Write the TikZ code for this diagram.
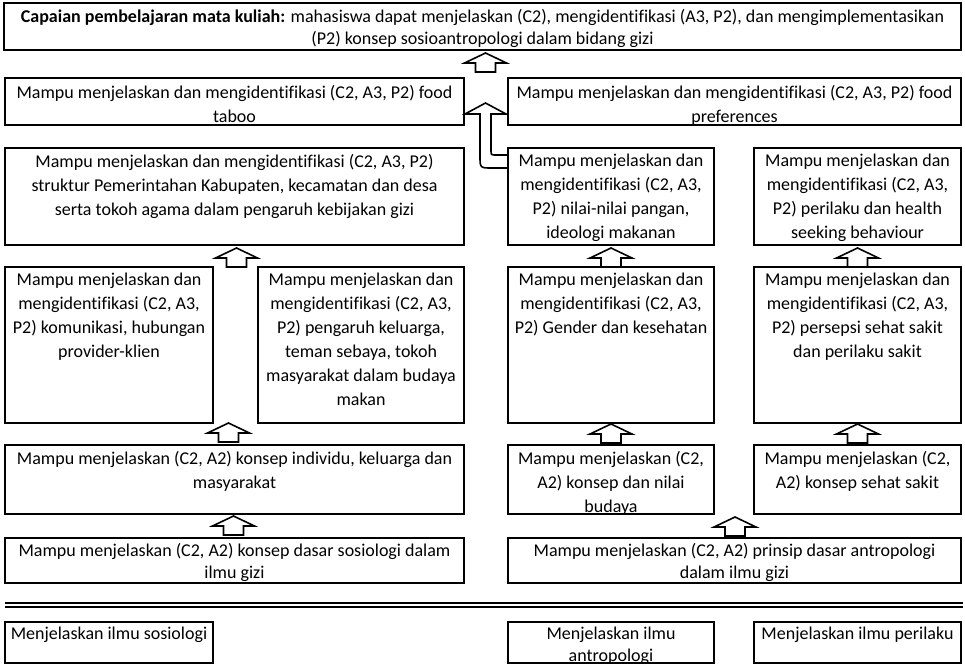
\documentclass[tikz,border=0pt]{standalone}
\usepackage{fontspec}
\setmainfont{Carlito}[Ligatures=NoCommon]
\usetikzlibrary{positioning,calc}
\tikzset{
  box/.style={draw=black, line width=2.5pt, inner sep=0pt, outer sep=0pt, anchor=north west},
  txt/.style={align=center, inner sep=0pt, font=\fontsize{18}{24}\selectfont},
  tight/.style={font=\fontsize{18}{22}\selectfont},
  barr/.style={draw=black, line width=1.6pt, fill=white, line join=miter},
  blockup/.pic={\draw[barr] (0,0) -- (21,10) -- (10,10) -- (10,19) -- (-10,19) -- (-10,10) -- (-21,10) -- cycle;},
}
\begin{document}
\begin{tikzpicture}[x=1pt, y=-1pt]
  \useasboundingbox (0,0) rectangle (965,665);
  % CPMK
  \node[box, minimum width=957, minimum height=47] (cpmk) at (4,3) {};
  \node[txt, tight, below=6pt of cpmk.north] (cpmkt) {\textbf{Capaian pembelajaran mata kuliah:} mahasiswa dapat menjelaskan (C2), mengidentifikasi (A3, P2), dan mengimplementasikan\\ (P2) konsep sosioantropologi dalam bidang gizi};
  % row 2
  \node[box, minimum width=459, minimum height=47] (taboo) at (5,78) {};
  \node[txt, below=7pt of taboo.north] (taboot) {Mampu menjelaskan dan mengidentifikasi (C2, A3, P2) food\\ taboo};
  \node[box, minimum width=453, minimum height=47] (pref) at (508,78) {};
  \node[txt, below=7pt of pref.north] (preft) {Mampu menjelaskan dan mengidentifikasi (C2, A3, P2) food\\ preferences};
  % row 3
  \node[box, minimum width=459, minimum height=97] (struktur) at (5,148) {};
  \node[txt, below=6pt of struktur.north] (strukturt) {Mampu menjelaskan dan mengidentifikasi (C2, A3, P2)\\ struktur Pemerintahan Kabupaten, kecamatan dan desa\\ serta tokoh agama dalam pengaruh kebijakan gizi};
  \node[box, minimum width=206, minimum height=97] (nilai) at (508,148) {};
  \node[txt, below=6pt of nilai.north] (nilait) {Mampu menjelaskan dan\\ mengidentifikasi (C2, A3,\\ P2) nilai-nilai pangan,\\ ideologi makanan};
  \node[box, minimum width=207, minimum height=97] (health) at (754,148) {};
  \node[txt, below=6pt of health.north] (healtht) {Mampu menjelaskan dan\\ mengidentifikasi (C2, A3,\\ P2) perilaku dan health\\ seeking behaviour};
  % row 4
  \node[box, minimum width=208, minimum height=156] (komunikasi) at (5,267) {};
  \node[txt, below=6pt of komunikasi.north] (komunikasit) {Mampu menjelaskan dan\\ mengidentifikasi (C2, A3,\\ P2) komunikasi, hubungan\\ provider-klien};
  \node[box, minimum width=206, minimum height=156] (keluarga) at (258,267) {};
  \node[txt, below=6pt of keluarga.north] (keluargat) {Mampu menjelaskan dan\\ mengidentifikasi (C2, A3,\\ P2) pengaruh keluarga,\\ teman sebaya, tokoh\\ masyarakat dalam budaya\\ makan};
  \node[box, minimum width=206, minimum height=156] (gender) at (508,267) {};
  \node[txt, below=6pt of gender.north] (gendert) {Mampu menjelaskan dan\\ mengidentifikasi (C2, A3,\\ P2) Gender dan kesehatan};
  \node[box, minimum width=207, minimum height=156] (persepsi) at (754,267) {};
  \node[txt, below=6pt of persepsi.north] (persepsit) {Mampu menjelaskan dan\\ mengidentifikasi (C2, A3,\\ P2) persepsi sehat sakit\\ dan perilaku sakit};
  % row 5
  \node[box, minimum width=459, minimum height=69] (individu) at (5,445) {};
  \node[txt, below=6pt of individu.north] (individut) {Mampu menjelaskan (C2, A2) konsep individu, keluarga dan\\ masyarakat};
  \node[box, minimum width=206, minimum height=69] (budaya) at (508,445) {};
  \node[txt, below=6pt of budaya.north] (budayat) {Mampu menjelaskan (C2,\\ A2) konsep dan nilai\\ budaya};
  \node[box, minimum width=207, minimum height=69] (sehat) at (754,445) {};
  \node[txt, below=6pt of sehat.north] (sehatt) {Mampu menjelaskan (C2,\\ A2) konsep sehat sakit};
  % row 6
  \node[box, minimum width=459, minimum height=45] (sosio) at (5,538) {};
  \node[txt, tight, below=5.5pt of sosio.north] (sosiot) {Mampu menjelaskan (C2, A2) konsep dasar sosiologi dalam\\ ilmu gizi};
  \node[box, minimum width=453, minimum height=45] (antro) at (508,538) {};
  \node[txt, tight, below=5.5pt of antro.north] (antrot) {Mampu menjelaskan (C2, A2) prinsip dasar antropologi\\ dalam ilmu gizi};
  % separator
  \draw[line width=1.5pt, double distance=2.5pt] (5,605) -- (963,605);
  % basic sciences
  \node[box, minimum width=208, minimum height=41] (ilsosio) at (5,622) {};
  \node[txt, tight, below=5pt of ilsosio.north] (ilsosiot) {Menjelaskan ilmu sosiologi};
  \node[box, minimum width=206, minimum height=41] (ilantro) at (508,622) {};
  \node[txt, tight, below=5pt of ilantro.north] (ilantrot) {Menjelaskan ilmu\\ antropologi};
  \node[box, minimum width=207, minimum height=41] (ilperilaku) at (754,622) {};
  \node[txt, tight, below=5pt of ilperilaku.north] (ilperilakut) {Menjelaskan ilmu perilaku};
  % block arrows
  \pic at ($(cpmk.south)+(3,3)$) {blockup};
  \pic at ($(struktur.south)+(2,3)$) {blockup};
  \pic at ($(nilai.south)+(0,3)$) {blockup};
  \pic at ($(health.south)+(0,3)$) {blockup};
  \pic at ($(komunikasi.south east)!.5!(keluarga.south west)+(-7,0)$) {blockup};
  \pic at ($(gender.south)+(0,1)$) {blockup};
  \pic at ($(persepsi.south)+(0,1)$) {blockup};
  \pic at ($(individu.south)+(-1,2)$) {blockup};
  \pic at ($(budaya.south east)!.5!(sehat.south west)+(1,3)$) {blockup};
  % bent arrow from nilai up to CPMK
  \begin{scope}[shift={(nilai.north west)}]
    \draw[barr] (-1.25,7) -- (-12,7) .. controls (-17,7) .. (-17,2) -- (-17,-34) -- (-2,-34) -- (-22.5,-45) -- (-43,-34) -- (-28,-34) -- (-28,8) .. controls (-28,20) .. (-16,20) -- (-1.25,20);
  \end{scope}
\end{tikzpicture}
\end{document}
